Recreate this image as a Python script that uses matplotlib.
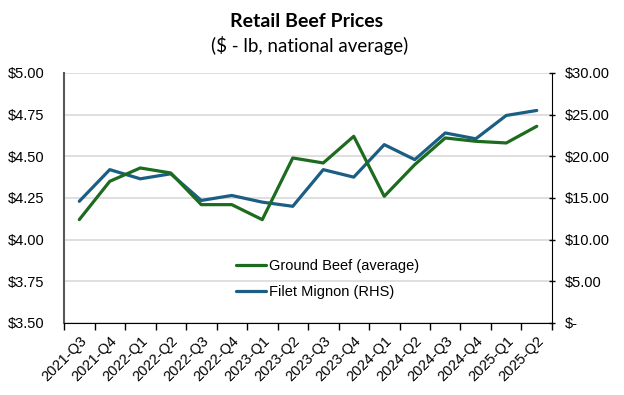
import matplotlib.pyplot as plt
import numpy as np
from matplotlib.ticker import FuncFormatter, FixedLocator

quarters = ["2021-Q3", "2021-Q4", "2022-Q1", "2022-Q2", "2022-Q3", "2022-Q4",
            "2023-Q1", "2023-Q2", "2023-Q3", "2023-Q4", "2024-Q1", "2024-Q2",
            "2024-Q3", "2024-Q4", "2025-Q1", "2025-Q2"]
ground_beef = [4.12, 4.35, 4.43, 4.40, 4.21, 4.21, 4.12, 4.49, 4.46,
               4.62, 4.26, 4.45, 4.61, 4.59, 4.58, 4.68]
filet_mignon = [14.6, 18.4, 17.3, 17.9, 14.7, 15.3, 14.5, 14.0, 18.4,
                17.5, 21.4, 19.6, 22.8, 22.1, 24.9, 25.5]

green = "#1d6b1f"
blue = "#1b5e84"

fig = plt.figure(figsize=(6.24, 3.95), dpi=100)
ax = fig.add_axes([0.1026, 0.1823, 0.782, 0.633])
ax2 = ax.twinx()

x = np.arange(len(quarters))
l1, = ax.plot(x, ground_beef, color=green, lw=2.3, label="Ground Beef (average)", solid_capstyle="round")
l2, = ax2.plot(x, filet_mignon, color=blue, lw=2.3, label="Filet Mignon (RHS)", solid_capstyle="round")
ax2.set_zorder(ax.get_zorder() - 1)
ax.patch.set_visible(False)
ax.set_zorder(2)

ax.set_xlim(-0.5, len(quarters) - 0.5)
ax.set_ylim(3.5, 5.0)
ax2.set_ylim(0, 30)
ax.set_yticks(np.arange(3.5, 5.01, 0.25))
ax2.set_yticks(np.arange(0, 30.1, 5))

ax.set_xticks(x)
ax.set_xticklabels(quarters, rotation=45, ha="right", rotation_mode="anchor",
                   fontsize=10.5, family="Liberation Sans")
ax.xaxis.set_minor_locator(FixedLocator(np.arange(-0.5, len(quarters), 1)))
ax.tick_params(axis="x", which="major", length=0, pad=8)
ax.tick_params(axis="x", which="minor", length=5, width=1, color="black", direction="out")

ax.yaxis.set_major_formatter(FuncFormatter(lambda v, p: f"${v:.2f}"))
ax2.yaxis.set_major_formatter(FuncFormatter(lambda v, p: "$-" if v == 0 else f"${v:.2f}"))
ax.tick_params(axis="y", length=0, pad=14, labelsize=10.5)
ax2.tick_params(axis="y", length=5, width=1, direction="inout", pad=7, labelsize=10.5)
for lab in ax.get_yticklabels() + ax2.get_yticklabels():
    lab.set_family("Liberation Sans")

ax2.grid(axis="y", color="#d9d9d9", lw=1.2)
ax.set_axisbelow(True)

for a in (ax, ax2):
    a.spines["top"].set_visible(False)
ax.spines["right"].set_visible(False)
ax2.spines["left"].set_visible(False)
ax2.spines["bottom"].set_visible(False)
ax.spines["left"].set_color("#595959")
ax.spines["left"].set_linewidth(1.5)
ax.spines["bottom"].set_color("black")
ax2.spines["right"].set_color("black")

ax.legend(handles=[l1, l2], loc="center", bbox_to_anchor=(0.54, 0.176), frameon=False,
          prop={"family": "Liberation Sans", "size": 10.5}, handlelength=2.0,
          handletextpad=0.2, labelspacing=0.85)

fig.text(0.492, 0.945, "Retail Beef Prices", ha="center", va="center",
         fontsize=14, fontweight="bold", family="Lato")
fig.text(0.496, 0.885, "($ - lb, national average)", ha="center", va="center",
         fontsize=13.5, family="Lato")

fig.savefig("out.png", dpi=100)
